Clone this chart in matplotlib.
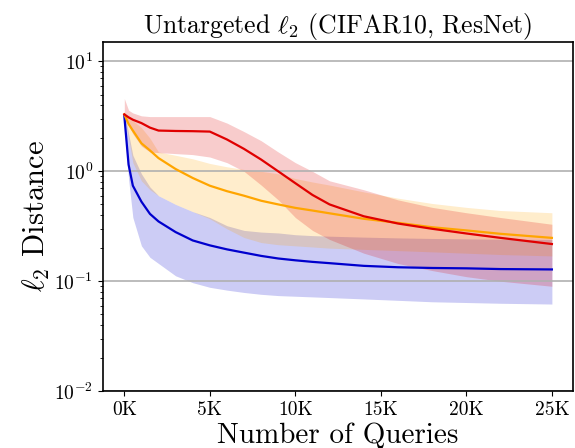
import numpy as np
import matplotlib
matplotlib.use("Agg")
import matplotlib.pyplot as plt

plt.rcParams["font.family"] = "serif"
plt.rcParams["font.serif"] = ["cmr10"]
plt.rcParams["mathtext.fontset"] = "cm"
plt.rcParams["axes.formatter.use_mathtext"] = True

# query budget (thousands)
queries_k = [0, 0.25, 0.5, 1, 1.5, 2, 3, 4, 5, 6, 7, 8, 9, 10, 11, 12, 14, 16, 18, 20, 22, 25]

# blue method: median / lower / upper
blue_mid = [3.2, 1.15, 0.74, 0.53, 0.41, 0.35, 0.28, 0.235, 0.212, 0.195, 0.182, 0.17, 0.161,
            0.155, 0.15, 0.146, 0.138, 0.134, 0.132, 0.131, 0.129, 0.128]
blue_lo = [2.6, 0.85, 0.38, 0.21, 0.165, 0.145, 0.112, 0.097, 0.088, 0.083, 0.079, 0.076, 0.074,
           0.073, 0.072, 0.071, 0.069, 0.067, 0.065, 0.064, 0.063, 0.062]
blue_hi = [3.5, 2.2, 1.4, 0.95, 0.72, 0.6, 0.5, 0.43, 0.38, 0.32, 0.29, 0.28, 0.275,
           0.265, 0.26, 0.257, 0.252, 0.248, 0.245, 0.243, 0.241, 0.24]

# orange method
orange_mid = [3.3, 2.7, 2.35, 1.8, 1.55, 1.32, 1.05, 0.87, 0.74, 0.66, 0.6, 0.54, 0.5,
              0.465, 0.44, 0.415, 0.37, 0.34, 0.31, 0.29, 0.27, 0.248]
orange_lo = [3.2, 2.0, 1.2, 0.82, 0.68, 0.6, 0.5, 0.43, 0.37, 0.3, 0.25, 0.225, 0.215,
             0.21, 0.205, 0.2, 0.195, 0.19, 0.185, 0.18, 0.175, 0.17]
orange_hi = [3.4, 3.0, 2.9, 2.5, 2.0, 1.5, 1.4, 1.3, 1.18, 1.1, 1.04, 1.0, 0.95,
             0.86, 0.8, 0.75, 0.65, 0.57, 0.51, 0.47, 0.44, 0.42]

# red method
red_mid = [3.3, 3.1, 2.95, 2.75, 2.5, 2.35, 2.33, 2.32, 2.3, 1.95, 1.6, 1.28, 1.0,
           0.78, 0.61, 0.5, 0.39, 0.335, 0.3, 0.272, 0.248, 0.218]
red_lo = [3.0, 2.6, 2.2, 1.7, 1.5, 1.48, 1.45, 1.42, 1.35, 1.2, 1.0, 0.75, 0.55,
          0.38, 0.29, 0.24, 0.18, 0.145, 0.125, 0.11, 0.1, 0.09]
red_hi = [4.6, 3.6, 3.4, 3.2, 3.15, 3.15, 3.15, 3.15, 3.15, 2.75, 2.3, 1.9, 1.5,
          1.2, 1.0, 0.82, 0.68, 0.55, 0.47, 0.42, 0.38, 0.33]

x = np.array(queries_k) * 1000

fig = plt.figure(figsize=(5.75, 4.48), dpi=100)
ax = fig.add_axes([0.179, 0.127, 0.818, 0.779])

for mid, lo, hi, col in [(blue_mid, blue_lo, blue_hi, "#0000cd"),
                         (orange_mid, orange_lo, orange_hi, "#ffa500"),
                         (red_mid, red_lo, red_hi, "#e00000")]:
    ax.fill_between(x, lo, hi, color=col, alpha=0.2, linewidth=0)
    ax.plot(x, mid, color=col, linewidth=1.6)

ax.set_yscale("log")
ax.set_ylim(0.01, 15)
ax.set_xlim(-1250, 26250)
ax.set_xticks(np.arange(0, 25001, 5000))
ax.set_xticklabels(["%dK" % (v // 1000) for v in range(0, 25001, 5000)])
ax.grid(axis="y", which="major", color="#b0b0b0", linewidth=1.2)
ax.tick_params(axis="both", labelsize=14)
for s in ax.spines.values():
    s.set_linewidth(1.2)

ax.set_title(r"Untargeted $\ell_2$ (CIFAR10, ResNet)", fontsize=18.5, pad=5)
ax.set_xlabel("Number of Queries", fontsize=21, labelpad=3)
ax.set_ylabel(r"$\ell_2$ Distance", fontsize=22, labelpad=2)

fig.savefig("out.png", dpi=100)
